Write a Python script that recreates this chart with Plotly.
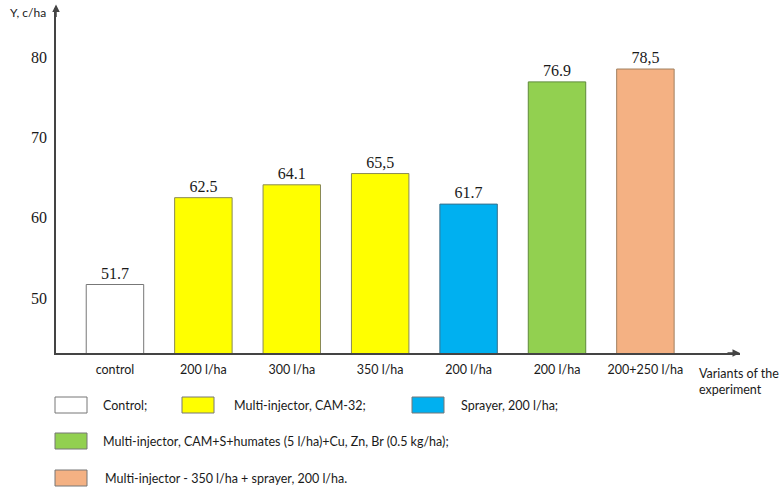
import plotly.graph_objects as go

categories = ["control", "200 l/ha", "300 l/ha", "350 l/ha", "200 l/ha", "200 l/ha", "200+250 l/ha"]
values = [51.7, 62.5, 64.1, 65.5, 61.7, 76.9, 78.5]
value_labels = ["51.7", "62.5", "64.1", "65,5", "61.7", "76.9", "78,5"]
bar_colors = ["#FFFFFF", "#FFFF00", "#FFFF00", "#FFFF00", "#00B0F0", "#92D050", "#F4B183"]
line_colors = ["#777777", "#8A8A55", "#8A8A55", "#8A8A55", "#3A6F8A", "#5E8A3A", "#A08060"]
y_ticks = [50, 60, 70, 80]

legend_labels = ["Control;", "Multi-injector, CAM-32;", "Sprayer, 200 l/ha;",
                 "Multi-injector, CAM+S+humates (5 l/ha)+Cu, Zn, Br (0.5 kg/ha);",
                 "Multi-injector - 350 l/ha + sprayer, 200 l/ha."]
legend_colors = ["#FFFFFF", "#FFFF00", "#00B0F0", "#92D050", "#F4B183"]

W, H = 779, 489
L, R, T, B = 56, 740, 8, 353

def xp(px):
    return (px - L) / (R - L)

def yp(py):
    return (B - py) / (B - T)

x_idx = list(range(len(categories)))

fig = go.Figure()
fig.add_trace(go.Bar(
    x=x_idx, y=values, width=0.65,
    marker=dict(color=bar_colors, line=dict(color=line_colors, width=1)),
    text=value_labels, textposition="outside",
    textfont=dict(family="Liberation Serif", size=16, color="#1a1a1a"),
    cliponaxis=False, showlegend=False,
))

fig.update_layout(
    width=W, height=H,
    margin=dict(l=L, r=W - R, t=T, b=H - B),
    plot_bgcolor="white", paper_bgcolor="white",
    xaxis=dict(range=[-0.667, 7.07], tickvals=x_idx, ticktext=categories,
               showgrid=False, zeroline=False, showline=True, linecolor="#444444", linewidth=1.5,
               ticks="", ticklabelstandoff=4,
               tickfont=dict(family="Lato", size=12.5, color="#1a1a1a")),
    yaxis=dict(range=[43.18, 86.09], tickvals=y_ticks, showgrid=False, zeroline=False,
               showline=True, linecolor="#444444", linewidth=1.5, ticks="", ticklabelstandoff=4,
               tickfont=dict(family="Liberation Serif", size=16, color="#1a1a1a")),
)

# axis arrows
fig.add_annotation(xref="paper", yref="paper", x=0, y=1.01, ax=0, ay=14, text="",
                   showarrow=True, arrowhead=2, arrowsize=1, arrowwidth=1.5, arrowcolor="#444444")
fig.add_annotation(xref="paper", yref="paper", x=1.0, y=0, ax=-14, ay=0, text="",
                   showarrow=True, arrowhead=2, arrowsize=1, arrowwidth=1.5, arrowcolor="#444444")

# axis titles
fig.add_annotation(xref="paper", yref="paper", x=xp(8), y=yp(12), text="Y, c/ha",
                   showarrow=False, xanchor="left", yanchor="middle",
                   font=dict(family="Lato", size=12, color="#1a1a1a"))
fig.add_annotation(xref="paper", yref="paper", x=xp(697), y=yp(381), text="Variants of the<br>experiment",
                   showarrow=False, xanchor="left", yanchor="middle", align="left",
                   font=dict(family="Lato", size=12.5, color="#1a1a1a"))

# custom legend
legend_pos = [(55, 405, 101), (182, 405, 232), (412, 405, 459), (55, 441, 101), (55, 478, 103)]
for lab, col, (bx, cy, tx) in zip(legend_labels, legend_colors, legend_pos):
    fig.add_shape(type="rect", xref="paper", yref="paper",
                  x0=xp(bx), x1=xp(bx + 32), y0=yp(cy + 8), y1=yp(cy - 8),
                  fillcolor=col, line=dict(color="#777777", width=1))
    fig.add_annotation(xref="paper", yref="paper", x=xp(tx), y=yp(cy), text=lab,
                       showarrow=False, xanchor="left", yanchor="middle",
                       font=dict(family="Lato", size=12.5, color="#1a1a1a"))

fig.write_html("out.html", config={"displayModeBar": False},
               post_script="document.body.style.margin='0';")
